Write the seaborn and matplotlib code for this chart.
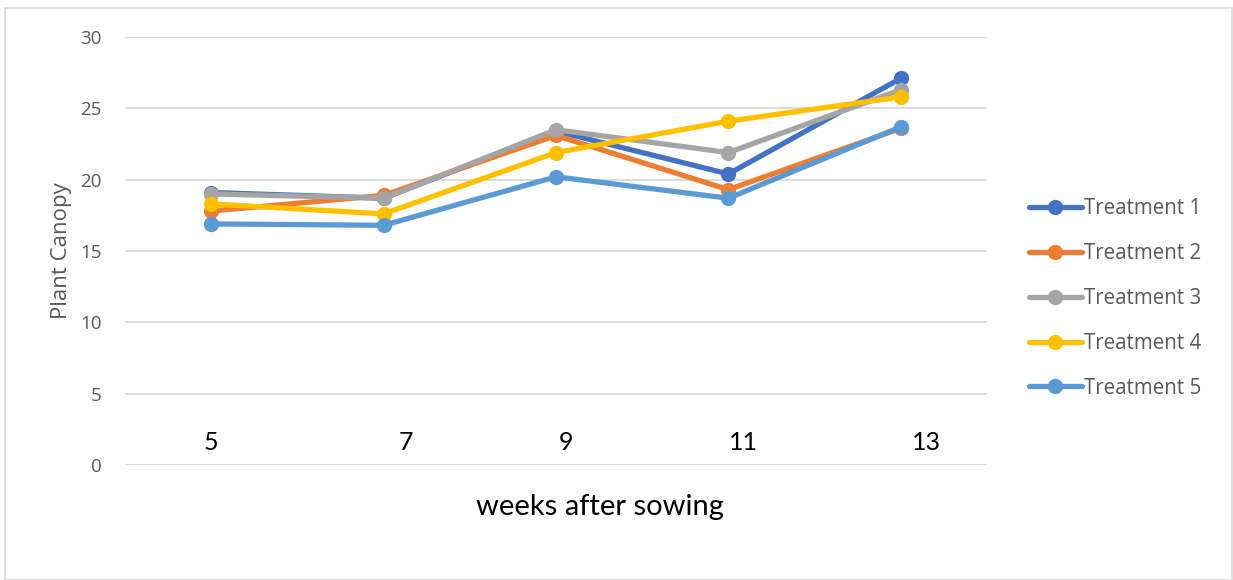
import numpy as np
import pandas as pd
import matplotlib
matplotlib.use("Agg")
import matplotlib.pyplot as plt
import seaborn as sns
from matplotlib.patches import Rectangle

# data
weeks = ["5", "7", "9", "11", "13"]
treatment_1 = [19.1, 18.7, 23.4, 20.4, 27.1]
treatment_2 = [17.8, 18.9, 23.1, 19.3, 23.6]
treatment_3 = [19.0, 18.7, 23.5, 21.9, 26.3]
treatment_4 = [18.3, 17.6, 21.9, 24.1, 25.8]
treatment_5 = [16.9, 16.8, 20.2, 18.7, 23.7]
series_names = ["Treatment 1", "Treatment 2", "Treatment 3", "Treatment 4", "Treatment 5"]
colors = ["#4472C4", "#ED7D31", "#A5A5A5", "#FFC000", "#5B9BD5"]
# the week labels sit slightly off the category centres in the original
week_label_pos = [0.0, 1.13, 2.06, 3.09, 4.15]

series = [treatment_1, treatment_2, treatment_3, treatment_4, treatment_5]
rows = []
for name, vals in zip(series_names, series):
    for i, v in enumerate(vals):
        rows.append({"pos": i, "value": v, "treatment": name})
df = pd.DataFrame(rows)

sns.set_theme(style="white")
plt.rcParams["font.family"] = ["Open Sans", "DejaVu Sans"]

fig = plt.figure(figsize=(12.33, 5.8), dpi=100)
ax = fig.add_axes([125 / 1233, 1 - 465 / 580, 862 / 1233, 428 / 580])

sns.lineplot(data=df, x="pos", y="value", hue="treatment", hue_order=series_names,
             palette=colors, marker="o", markersize=11, markeredgewidth=0,
             linewidth=3.8, ax=ax, legend=False)

ax.set_xlim(-0.5, 4.5)
ax.set_ylim(0, 30)
ax.set_yticks(np.arange(0, 31, 5))
ax.yaxis.grid(True, color="#D9D9D9", linewidth=1.3)
ax.set_axisbelow(True)
for s in ax.spines.values():
    s.set_visible(False)
ax.tick_params(axis="y", length=0, pad=17, labelsize=13.5, labelcolor="#595959")
ax.set_xticks([])
ax.set_xlabel("")
ax.set_ylabel("Plant Canopy", fontsize=16, color="#595959", labelpad=6)

for lbl, p in zip(weeks, week_label_pos):
    ax.text(p, 1.55, lbl, ha="center", va="center", fontsize=18,
            family=["Lato", "DejaVu Sans"], color="black")

fig.text(600 / 1233, 1 - 507 / 580, "weeks after sowing", ha="center", va="center",
         fontsize=21, family=["Lato", "DejaVu Sans"], color="black")

# legend on the right
handles = [plt.Line2D([], [], color=c, linewidth=3.8, marker="o", markersize=11,
                      markeredgewidth=0) for c in colors]
leg = fig.legend(handles, series_names, loc="upper left",
                 bbox_to_anchor=(1021 / 1233, 1 - 190 / 580), frameon=False,
                 fontsize=14.8, handlelength=2.55, handletextpad=0.1,
                 labelspacing=1.16, borderaxespad=0)
for t in leg.get_texts():
    t.set_color("#595959")

# light chart border
fig.patches.append(Rectangle((5 / 1233, 0), 1 - 6 / 1233, 1 - 8 / 580,
                             transform=fig.transFigure, fill=False,
                             edgecolor="#D9D9D9", linewidth=1.2))

fig.savefig("out.png", dpi=100)
